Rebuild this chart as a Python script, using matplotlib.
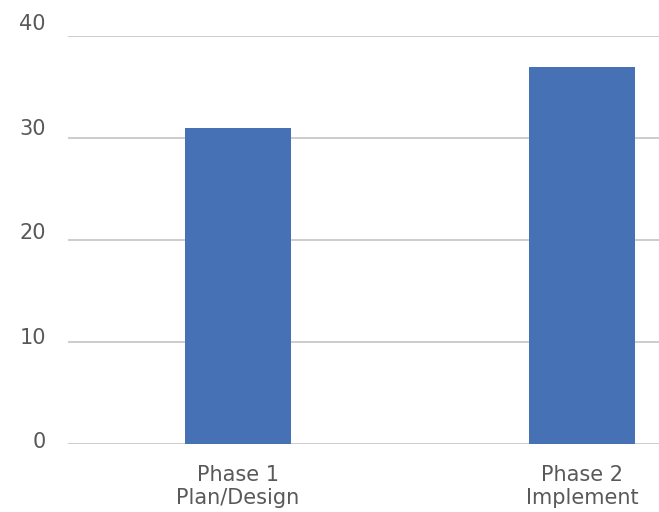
import matplotlib
matplotlib.use("Agg")
import matplotlib.pyplot as plt
from matplotlib.transforms import ScaledTranslation

# phase effort values
categories = ["Phase 1\nPlan/Design", "Phase 2\nImplement"]
values = [31, 37]
yticks = [0, 10, 20, 30, 40]

BAR = "#4672b5"
GRID = "#bfbfbf"
TXT = "#595959"

plt.rcParams["font.family"] = ["DejaVu Sans"]

fig = plt.figure(figsize=(6.59, 5.12), dpi=100)
ax = fig.add_axes([68 / 659, 1 - 444 / 512, 1 - 68 / 659, (444 - 36) / 512])

x = range(len(categories))
ax.bar(x, values, width=0.31, color=BAR, zorder=2)

ax.set_ylim(0, 40)
ax.set_xlim(-0.494, 1.224)
ax.set_yticks(yticks)
ax.set_xticks(list(x))
ax.set_xticklabels(categories, linespacing=1.2)
ax.yaxis.grid(True, color=GRID, lw=1.1, zorder=0)
ax.set_axisbelow(True)
for s in ax.spines.values():
    s.set_visible(False)
ax.tick_params(axis="both", length=0, labelsize=15, labelcolor=TXT)
ax.tick_params(axis="y", pad=16)
ax.tick_params(axis="x", pad=15)

# value labels sit a little above their gridlines, more so toward the top
for v, lab in zip(yticks, ax.get_yticklabels()):
    dy = (4 + 0.24 * v) / fig.dpi
    lab.set_transform(lab.get_transform() + ScaledTranslation(0, dy, fig.dpi_scale_trans))

fig.savefig("out.png", dpi=100)
